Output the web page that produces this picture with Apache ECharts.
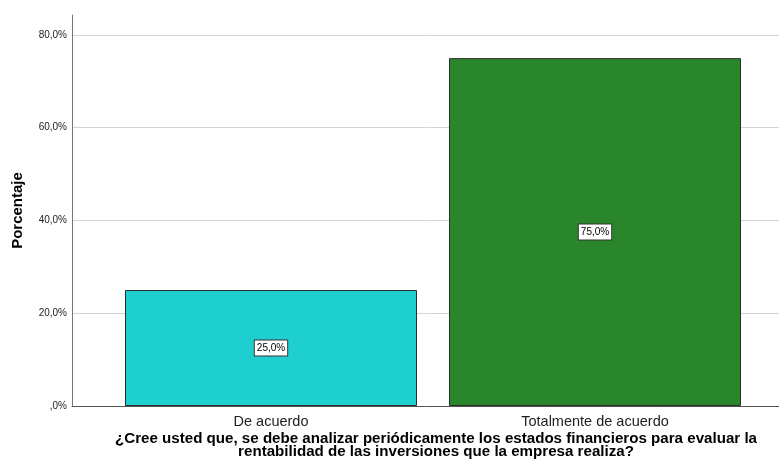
<!DOCTYPE html>
<html>
<head>
<meta charset="utf-8">
<script src="https://cdn.jsdelivr.net/npm/echarts@6/dist/echarts.min.js"></script>
<style>
  html, body { margin: 0; padding: 0; background: #fff; }
  #chart { width: 779px; height: 473px; }
</style>
</head>
<body>
<div id="chart"></div>
<script>
var categories = ["De acuerdo", "Totalmente de acuerdo"];
var percentages = [25.0, 75.0];
var barColors = ["#1ecfcf", "#2a862a"];
var yTicks = [0, 20, 40, 60, 80];
var xTitle = "¿Cree usted que, se debe analizar periódicamente los estados financieros para evaluar la\nrentabilidad de las inversiones que la empresa realiza?";

var font = "Liberation Sans, Arial, sans-serif";

function pct(v) {
  // SPSS style: ",0%" for zero, comma decimal
  var s = v.toFixed(1).replace(".", ",");
  if (s.indexOf("0,") === 0) s = s.slice(1);
  return s + "%";
}

var myChart = echarts.init(document.getElementById("chart"), null, { renderer: "canvas" });

var option = {
  animation: false,
  textStyle: { fontFamily: font },
  // axis title of the x axis, stretched a bit like the SPSS export
  graphic: [
    {
      type: "text",
      x: 436,
      y: 432,
      scaleX: 1.08,
      style: {
        text: xTitle,
        font: "bold 14px " + font,
        fill: "#000",
        align: "center",
        verticalAlign: "top",
        lineHeight: 13.5
      }
    }
  ],
  grid: [
    { left: 72, right: 0, top: 15, bottom: 67 },
    { left: 109, right: 22, top: 15, bottom: 67 }
  ],
  xAxis: [
    {
      gridIndex: 0, type: "value", min: 0, max: 1,
      axisLine: { show: true, onZero: false, lineStyle: { color: "#555", width: 1 } },
      axisTick: { show: false }, axisLabel: { show: false }, splitLine: { show: false }
    },
    {
      gridIndex: 1, type: "category", data: categories,
      axisLine: { show: false }, axisTick: { show: false },
      axisLabel: { fontFamily: font, fontSize: 14.5, color: "#222", margin: 8 }
    }
  ],
  yAxis: [
    {
      gridIndex: 0, type: "value", min: 0, max: 84.3, interval: 20,
      name: "Porcentaje", nameLocation: "middle", nameGap: 47,
      nameTextStyle: { fontFamily: font, fontSize: 15, fontWeight: "bold", color: "#000" },
      axisLine: { show: true, lineStyle: { color: "#777", width: 1 } },
      axisTick: { show: false },
      axisLabel: {
        fontFamily: font, fontSize: 10, color: "#222", margin: 5,
        showMaxLabel: false,
        formatter: function (v) { return yTicks.indexOf(v) >= 0 ? pct(v) : ""; }
      },
      splitLine: { show: true, showMaxLine: false, showMinLine: false, lineStyle: { color: "#d4d4d4", width: 1 } }
    },
    {
      gridIndex: 1, type: "value", min: 0, max: 84.3, show: false
    }
  ],
  series: [
    {
      type: "bar",
      xAxisIndex: 1,
      yAxisIndex: 1,
      barWidth: 292,
      data: percentages.map(function (v, i) {
        return { value: v, itemStyle: { color: barColors[i] } };
      }),
      itemStyle: { borderColor: "#2b2b2b", borderWidth: 1 },
      label: {
        show: true,
        position: "inside",
        formatter: function (p) { return pct(p.value); },
        fontFamily: font, fontSize: 10, color: "#000",
        backgroundColor: "#fff", borderColor: "#333", borderWidth: 1,
        padding: [3, 2, 2, 2]
      }
    }
  ]
};

myChart.setOption(option);
window.addEventListener("resize", myChart.resize);
</script>
</body>
</html>
